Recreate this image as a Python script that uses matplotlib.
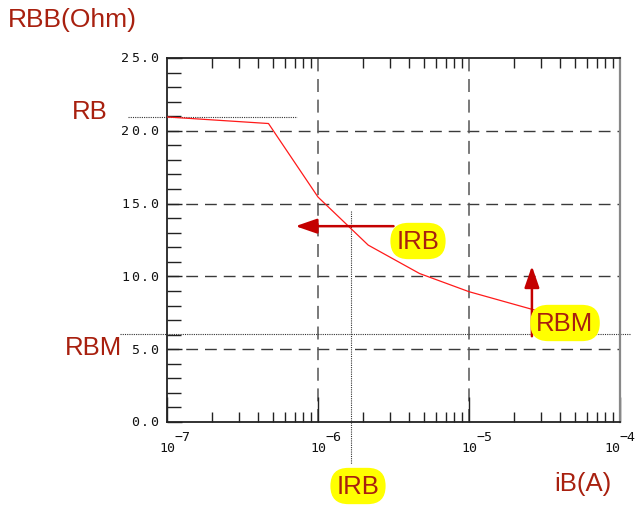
import matplotlib
matplotlib.use("Agg")
import matplotlib.pyplot as plt
import numpy as np
from matplotlib.ticker import LogLocator, MultipleLocator, NullFormatter

# Data
ib = [1e-7, 4.7e-7, 1.0e-6, 2.15e-6, 4.7e-6, 1.0e-5, 4.7e-5]
rbb = [20.95, 20.5, 15.45, 12.15, 10.2, 8.95, 7.0]

x_ticks = [1e-7, 1e-6, 1e-5, 1e-4]
x_tick_exponents = ['\u22127', '\u22126', '\u22125', '\u22124']
y_ticks = [0, 5, 10, 15, 20, 25]
y_tick_labels = ['0.0', '5.0', '10.0', '15.0', '20.0', '25.0']

# annotation values
rb_level = 20.95
rbm_level = 6.05
irb_current = 1.66e-6

W, H = 637, 506
fig = plt.figure(figsize=(W / 100, H / 100), dpi=100)
AX_L, AX_R, AX_T, AX_B = 167, 620, 59, 423
ax = fig.add_axes([AX_L / W, 1 - AX_B / H, (AX_R - AX_L) / W, (AX_B - AX_T) / H])

dark_red = '#a8200f'
arrow_red = '#c40000'

ax.set_xscale('log')
ax.set_xlim(1e-7, 1e-4)
ax.set_ylim(0, 25)

ax.plot(ib, rbb, color='#ff1a1a', lw=0.9, zorder=3)

# grid
for v in [5, 10, 15, 20]:
    ax.axhline(v, color='#3a3a3a', lw=1.0, ls=(0, (8.5, 5)), zorder=1)
for v in [1e-6, 1e-5]:
    ax.axvline(v, color='#555555', lw=1.1, ls=(0, (8.5, 5)), zorder=1)

# ticks
ax.set_xticks(x_ticks)
ax.set_xticklabels([])
ax.xaxis.set_minor_locator(LogLocator(base=10, subs=np.arange(2, 10)))
ax.xaxis.set_minor_formatter(NullFormatter())
ax.set_yticks(y_ticks)
ax.set_yticklabels([])
ax.yaxis.set_minor_locator(MultipleLocator(1))
ax.tick_params(axis='both', which='both', direction='in', right=False, color='#222222')
ax.tick_params(axis='x', which='major', top=False, length=18, width=1.0)
ax.tick_params(axis='x', which='minor', top=True, length=7, width=1.0)
ax.tick_params(axis='y', which='major', length=11, width=1.0)
ax.tick_params(axis='y', which='minor', length=10, width=1.0)
for s in ['left', 'bottom', 'top']:
    ax.spines[s].set_color('#222222')
    ax.spines[s].set_linewidth(1.3)
ax.spines['right'].set_color('#888888')
ax.spines['right'].set_linewidth(1.6)

mono = dict(family='DejaVu Sans Mono', fontsize=9.5, color='#111111')
def px_to_fig(x, y):
    return x / W, 1 - y / H

def px_x_of(val):
    return AX_L + (np.log10(val) + 7) / 3 * (AX_R - AX_L)

def px_y_of(val):
    return AX_B - val / 25 * (AX_B - AX_T)

# y tick labels: wide spaced monospace characters
pitch = 9.7
for v, lab in zip(y_ticks, y_tick_labels):
    yp = px_y_of(v)
    last_c = 154.5
    for i, ch in enumerate(reversed(lab)):
        fx, fy = px_to_fig(last_c - i * pitch, yp)
        fig.text(fx, fy, ch, ha='center', va='center', **mono)

# x tick labels: "10" with a full-size exponent raised above
for v, e in zip(x_ticks, x_tick_exponents):
    xp = min(px_x_of(v), 612)
    fx, fy = px_to_fig(xp, 448.5)
    fig.text(fx, fy, '10', ha='center', va='center', **mono)
    fx, fy = px_to_fig(xp + 7.5, 438)
    fig.text(fx, fy, e, ha='left', va='center', **mono)

# dotted reference lines
ax.plot([5.5e-8, 7.3e-7], [rb_level, rb_level], color='#333333', lw=0.8, ls=(0, (1, 1)), clip_on=False, zorder=2)
ax.plot([4.9e-8, 1.16e-4], [rbm_level, rbm_level], color='#333333', lw=0.8, ls=(0, (1, 1)), clip_on=False, zorder=2)
ax.plot([irb_current, irb_current], [14.5, -2.9], color='#333333', lw=0.8, ls=(0, (1, 1)), clip_on=False, zorder=2)

# arrows
ax.annotate('', xy=(6.8e-7, 13.45), xytext=(3.3e-6, 13.45),
            arrowprops=dict(arrowstyle='-|>,head_length=1.3,head_width=0.45', color=arrow_red, lw=1.8), zorder=4)
ax.annotate('', xy=(2.61e-5, 10.9), xytext=(2.61e-5, 5.7),
            arrowprops=dict(arrowstyle='-|>,head_length=1.3,head_width=0.45', color=arrow_red, lw=1.8), zorder=4)

font = 'Liberation Sans'
box = dict(boxstyle='round,pad=0.24,rounding_size=0.7', fc='#ffff00', ec='none')

def ftext(x, y, s, ha='center', va='center', bbox=None, size=18.5):
    fx, fy = px_to_fig(x, y)
    fig.text(fx, fy, s, ha=ha, va=va, color=dark_red, fontsize=size, family=font, bbox=bbox, zorder=5)

ftext(8, 20, 'RBB(Ohm)', ha='left', size=19)
ftext(90, 112, 'RB')
ftext(93, 348, 'RBM')
ftext(583, 484, 'iB(A)')
ftext(418, 242, 'IRB', bbox=box)
ftext(358, 487, 'IRB', bbox=box)
ftext(565, 324, 'RBM', bbox=box)

fig.savefig('out.png', dpi=100)
